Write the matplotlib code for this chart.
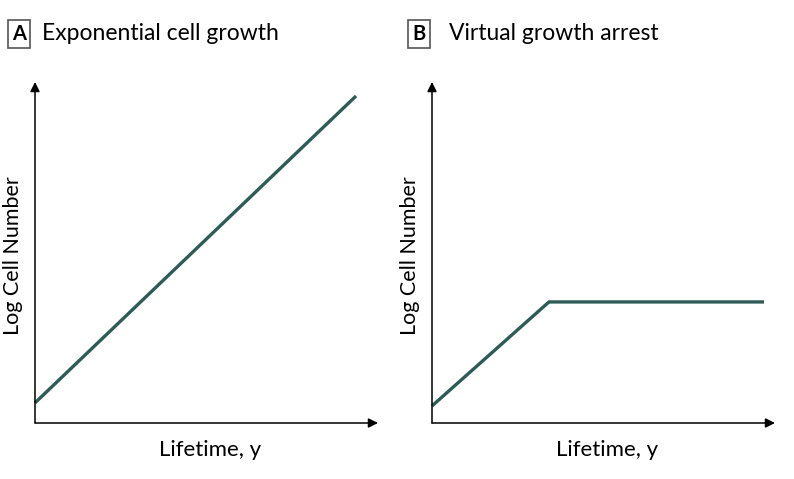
import matplotlib
matplotlib.use("Agg")
import matplotlib.pyplot as plt
from matplotlib.patches import Rectangle

# Data (normalized schematic values)
a_x = [0.0, 0.936]
a_y = [0.059, 0.959]
b_x = [0.0, 0.341, 0.968]
b_y = [0.05, 0.355, 0.355]

titles = ["Exponential cell growth", "Virtual growth arrest"]
letters = ["A", "B"]
xlabel = "Lifetime, y"
ylabel = "Log Cell Number"

W, H = 794, 479
fig = plt.figure(figsize=(W / 100, H / 100), dpi=100)
fam = ['Lato', 'DejaVu Sans']
line_color = "#2f5b57"

panels = [
    (35, 378, a_x, a_y, 8, 42),
    (432, 775, b_x, b_y, 408, 449),
]

for i, (x0, x1, xs, ys, boxx, titx) in enumerate(panels):
    y0, y1 = 423, 82
    ax = fig.add_axes([x0 / W, (H - y0) / H, (x1 - x0) / W, (y0 - y1) / H])
    ax.set_xlim(0, 1)
    ax.set_ylim(0, 1)
    for s in ax.spines.values():
        s.set_visible(False)
    ax.set_xticks([])
    ax.set_yticks([])
    ax.patch.set_alpha(0)
    ax.plot(xs, ys, color=line_color, lw=2.4, solid_capstyle='butt', solid_joinstyle='miter', clip_on=False)
    ax.annotate("", xy=(1, 0), xytext=(0, 0), xycoords='axes fraction',
                arrowprops=dict(arrowstyle='-|>', color='black', lw=1.1, mutation_scale=14, shrinkA=0, shrinkB=0))
    ax.annotate("", xy=(0, 1), xytext=(0, 0), xycoords='axes fraction',
                arrowprops=dict(arrowstyle='-|>', color='black', lw=1.1, mutation_scale=14, shrinkA=0, shrinkB=0))
    fig.text((x0 + 175) / W, (H - 450) / H, xlabel, ha='center', va='center', fontsize=16, family=fam)
    fig.text((x0 - 22) / W, (H - 256) / H, ylabel, ha='center', va='center', rotation=90, fontsize=15.5, family=fam)
    fig.patches.append(Rectangle((boxx / W, (H - 48) / H), 22 / W, 28 / H, transform=fig.transFigure,
                                 fc='white', ec='#555555', lw=1.2))
    fig.text((boxx + 11) / W, (H - 34) / H, letters[i], ha='center', va='center', fontsize=14.5, fontweight='bold',
             family=fam)
    fig.text(titx / W, (H - 34) / H, titles[i], ha='left', va='center', fontsize=16.5, family=fam)

fig.savefig("out.png", dpi=100)
